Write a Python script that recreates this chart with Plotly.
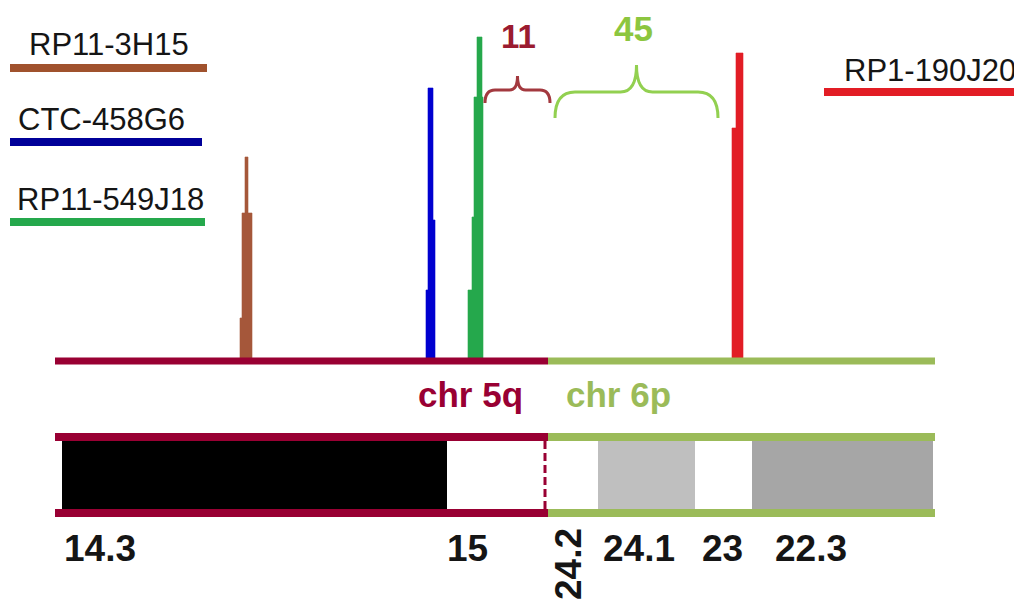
import plotly.graph_objects as go

# ---------------- data ----------------
probe_names = ["RP11-3H15", "CTC-458G6", "RP11-549J18", "RP1-190J20"]
probe_colors = ["#A5573A", "#0000D0", "#25A84C", "#E21D25"]
legend_line_colors = ["#A0522D", "#000099", "#25A84C", "#E21D25"]
# signal peaks: per probe, tiers from bottom to top: tier top height, left and right map position
peak_heights = [[42, 147, 203], [70, 140, 272], [70, 143, 263, 323], [232, 307]]
peak_left = [[240, 242, 245], [426, 428, 428], [468, 472, 474, 477], [732, 736]]
peak_right = [[252, 252, 248], [435, 435, 433], [483, 483, 483, 482], [743, 743]]

chromosomes = ["chr 5q", "chr 6p"]
chrom_start = [55, 548]
chrom_end = [548, 935]
chrom_colors = ["#990033", "#9BBB59"]

band_names = ["14.3", "15", "24.2", "24.1", "23", "22.3"]
band_chrom = [0, 0, 1, 1, 1, 1]
band_start = [62, 447, 548, 598, 695, 752]
band_end = [447, 543, 598, 695, 752, 933]
band_fill = ["#000000", "#FFFFFF", "#FFFFFF", "#BFBFBF", "#FFFFFF", "#A6A6A6"]

gap_labels = ["11", "45"]

# ---------------- style / layout constants ----------------
W, H = 1022, 601
PAGE_OFFSET = 8        # default body margin of the html page
BASE_PX = 360          # pixel row of the signal baseline


def py(ypx):
    """convert a pixel row to the y data coordinate (signal above baseline)"""
    return BASE_PX - ypx


FONT = "Liberation Sans, Arial, sans-serif"
TEXT_COLOR = "#151515"

fig = go.Figure()

# ---- peaks ----
for name, col, hs, ls, rs in zip(probe_names, probe_colors, peak_heights, peak_left, peak_right):
    xs, ys = [ls[0]], [0]
    prev = 0
    for i, h in enumerate(hs):
        xs += [ls[i], ls[i]]
        ys += [prev, h]
        prev = h
    rx, ry = [], []
    prev = 0
    for i, h in enumerate(hs):
        rx += [rs[i], rs[i]]
        ry += [prev, h]
        prev = h
    xs += rx[::-1]
    ys += ry[::-1]
    fig.add_trace(go.Scatter(x=xs, y=ys, fill="toself", fillcolor=col, mode="lines",
                             line=dict(color=col, width=0.6), name=name,
                             hoverinfo="skip", showlegend=False))

shapes = []
annotations = []

# ---- baseline per chromosome ----
for s, e, c in zip(chrom_start, chrom_end, chrom_colors):
    shapes.append(dict(type="line", x0=s, x1=e, y0=py(361), y1=py(361),
                       line=dict(color=c, width=7), layer="above"))

# ---- chromosome labels ----
chrom_label_dx = [-78, 70]
for name, c, dx in zip(chromosomes, chrom_colors, chrom_label_dx):
    annotations.append(dict(x=chrom_start[1] + dx, y=py(394), text="<b>%s</b>" % name,
                            showarrow=False, xanchor="center", yanchor="middle",
                            font=dict(family=FONT, size=35, color=c)))

# ---- ideogram ----
for b, (s, e, f) in enumerate(zip(band_start, band_end, band_fill)):
    shapes.append(dict(type="rect", x0=s, x1=e, y0=py(441), y1=py(509),
                       fillcolor=f, line=dict(width=0), layer="below"))
for s, e, c in zip(chrom_start, chrom_end, chrom_colors):
    for ypx in (437, 513):
        shapes.append(dict(type="line", x0=s, x1=e, y0=py(ypx), y1=py(ypx),
                           line=dict(color=c, width=8)))
# centromere-side dashed boundary
shapes.append(dict(type="line", x0=chrom_end[0] - 3, x1=chrom_end[0] - 3, y0=py(441), y1=py(509),
                   line=dict(color=chrom_colors[0], width=3, dash="8px,4px")))

band_label_dx = [38, 20, 20, 41, 27, 59]
for name, s, dx in zip(band_names, band_start, band_label_dx):
    rot = name == "24.2"
    annotations.append(dict(x=s + dx, y=py(564 if rot else 548), text="<b>%s</b>" % name,
                            showarrow=False, xanchor="center", yanchor="middle",
                            textangle=-90 if rot else 0,
                            font=dict(family=FONT, size=37, color=TEXT_COLOR)))

# ---- legend (probe names with colour bars) ----
leg_text_x = [27, 16, 15, 842]
leg_text_y = [44, 119, 199, 70]
leg_line_x = [(10, 207), (10, 202), (10, 205), (824, 1019)]
leg_line_y = [68, 142, 222, 92]
for name, c, tx, ty, (lx0, lx1), ly in zip(probe_names, legend_line_colors, leg_text_x,
                                           leg_text_y, leg_line_x, leg_line_y):
    annotations.append(dict(x=tx, y=py(ty), text=name, showarrow=False,
                            xanchor="left", yanchor="middle",
                            font=dict(family=FONT, size=31, color=TEXT_COLOR)))
    shapes.append(dict(type="path",
                       path="M %f,%f L %f,%f" % (lx0, py(ly), lx1, py(ly)),
                       line=dict(color=c, width=8)))

# ---- gap braces ----
def brace(x0, x1, y_end, y_mid, y_tip, r):
    xm = (x0 + x1) / 2.0
    return ("M {a},{ye} Q {a},{ym} {ar},{ym} L {ml},{ym} Q {m},{ym} {m},{yt} "
            "Q {m},{ym} {mr},{ym} L {br},{ym} Q {b},{ym} {b},{ye}").format(
        a=x0, b=x1, ar=x0 + r, br=x1 - r, m=xm, ml=xm - r * 0.8, mr=xm + r * 0.8,
        ye=y_end, ym=y_mid, yt=y_tip)

brace_spans = [(peak_right[2][0] + 2, chrom_start[1] + 2),
               (chrom_start[1] + 7, peak_left[3][0] - 14)]
brace_colors = ["#A3393F", "#92D050"]
brace_text_colors = ["#9B1B30", "#8CC63F"]
brace_geom = [(103, 90, 76, 10), (118, 92, 65, 20)]
brace_text_x = [518, 633]
brace_text_y = [36, 28]
brace_text_size = [33, 35]
for lab, (x0, x1), bc, tc, (ye, ym, yt, r), txx, tyy, ts in zip(
        gap_labels, brace_spans, brace_colors, brace_text_colors, brace_geom,
        brace_text_x, brace_text_y, brace_text_size):
    shapes.append(dict(type="path", path=brace(x0, x1, py(ye), py(ym), py(yt), r),
                       line=dict(color=bc, width=3)))
    annotations.append(dict(x=txx, y=py(tyy), text="<b>%s</b>" % lab,
                            showarrow=False, xanchor="center", yanchor="middle",
                            font=dict(family=FONT, size=ts, color=tc)))

fig.update_layout(
    width=W, height=H, autosize=False,
    margin=dict(l=0, r=0, t=0, b=0),
    paper_bgcolor="white", plot_bgcolor="white",
    shapes=shapes, annotations=annotations,
    # ranges shifted so that data units coincide with window pixels despite the page margin
    xaxis=dict(range=[PAGE_OFFSET, W + PAGE_OFFSET], visible=False, fixedrange=True),
    yaxis=dict(range=[py(H + PAGE_OFFSET), py(PAGE_OFFSET)], visible=False, fixedrange=True),
    hovermode=False,
)

fig.write_html("out.html", config={"displayModeBar": False})
